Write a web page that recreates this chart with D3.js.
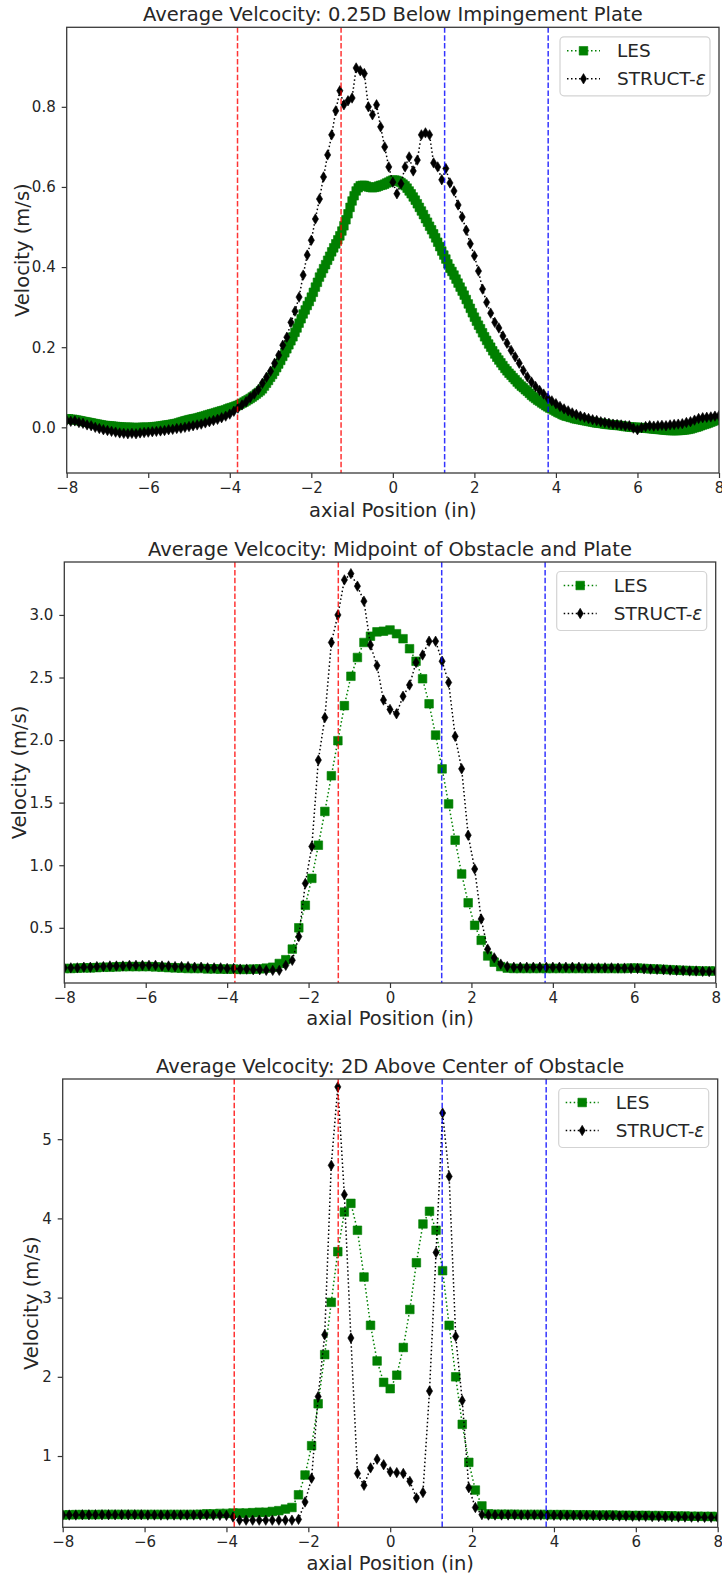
<!DOCTYPE html>
<html lang="en">
<head>
<meta charset="UTF-8">
<title>Average Velocity Profiles</title>
<script src="https://d3js.org/d3.v7.min.js"></script>
<style>
  body { margin: 0; background: #fff; }
  svg { display: block; font-family: "DejaVu Sans", sans-serif; }
  .axis line { stroke: #333; stroke-width: 1.2; }
  .axis text { font-size: 15px; fill: #262626; font-family: "DejaVu Sans", sans-serif; }
  .title, .axis-label { font-size: 19.5px; fill: #262626; }
  .legend text { font-size: 18.5px; fill: #262626; }
</style>
</head>
<body>
<svg id="chart" width="722" height="1579"></svg>
<script>
// ---- data ----
const xTicks = [-8, -6, -4, -2, 0, 2, 4, 6, 8];
const obstacleEdges = [-3.81, -1.27, 1.27, 3.81];
const seriesNames = ["LES", "STRUCT-"];

const titles = [
  "Average Velcocity: 0.25D Below Impingement Plate",
  "Average Velcocity: Midpoint of Obstacle and Plate",
  "Average Velcocity: 2D Above Center of Obstacle"
];

const plateTicks = [0.0, 0.2, 0.4, 0.6, 0.8];
const midTicks = [0.5, 1.0, 1.5, 2.0, 2.5, 3.0];
const aboveTicks = [1, 2, 3, 4, 5];

// 0.25D below the plate: LES every 0.05 in, STRUCT every 0.1 in
const plateLESX = d3.range(321).map(i => -8 + i * 0.05);
const plateStructX = d3.range(161).map(i => -8 + i * 0.1);
const plateLES = [
  0.021, 0.021, 0.020, 0.020, 0.019, 0.018, 0.017, 0.016, 0.015, 0.014,
  0.013, 0.012, 0.011, 0.010, 0.009, 0.008, 0.007, 0.006, 0.005, 0.0045,
  0.004, 0.0035, 0.003, 0.0025, 0.002, 0.0015, 0.001, 0.0005, 0.000, 0.000,
  0.000, 0.000, 0.000, -0.001, -0.001, -0.001, 0.000, 0.000, 0.000, 0.000,
  0.000, 0.000, 0.001, 0.0015, 0.002, 0.0025, 0.003, 0.004, 0.005, 0.0055,
  0.006, 0.007, 0.008, 0.009, 0.010, 0.0115, 0.013, 0.0145, 0.016, 0.0175,
  0.019, 0.020, 0.021, 0.022, 0.023, 0.0245, 0.026, 0.0275, 0.029, 0.0305,
  0.032, 0.0335, 0.035, 0.0365, 0.038, 0.0395, 0.041, 0.0425, 0.044, 0.046,
  0.048, 0.0495, 0.051, 0.053, 0.055, 0.0575, 0.060, 0.063, 0.066, 0.069,
  0.072, 0.0755, 0.079, 0.083, 0.087, 0.091, 0.096, 0.103, 0.110, 0.117,
  0.125, 0.132, 0.140, 0.149, 0.158, 0.167, 0.177, 0.186, 0.196, 0.206,
  0.216, 0.226, 0.237, 0.248, 0.260, 0.271, 0.283, 0.293, 0.304, 0.314,
  0.325, 0.337, 0.350, 0.362, 0.375, 0.385, 0.396, 0.406, 0.417, 0.427,
  0.438, 0.448, 0.458, 0.468, 0.478, 0.490, 0.503, 0.518, 0.533, 0.549,
  0.565, 0.578, 0.590, 0.598, 0.603, 0.604, 0.604, 0.602, 0.600, 0.599,
  0.598, 0.599, 0.600, 0.602, 0.604, 0.605, 0.607, 0.610, 0.612, 0.615,
  0.617, 0.617, 0.616, 0.614, 0.611, 0.607, 0.603, 0.597, 0.590, 0.583,
  0.575, 0.567, 0.558, 0.549, 0.540, 0.531, 0.521, 0.512, 0.502, 0.493,
  0.483, 0.473, 0.462, 0.451, 0.440, 0.430, 0.420, 0.408, 0.397, 0.389,
  0.380, 0.370, 0.360, 0.350, 0.340, 0.330, 0.319, 0.308, 0.297, 0.286,
  0.275, 0.265, 0.255, 0.246, 0.236, 0.226, 0.217, 0.208, 0.200, 0.191,
  0.183, 0.175, 0.168, 0.161, 0.154, 0.147, 0.141, 0.135, 0.130, 0.124,
  0.119, 0.113, 0.108, 0.103, 0.099, 0.094, 0.090, 0.085, 0.080, 0.076,
  0.072, 0.068, 0.065, 0.061, 0.058, 0.054, 0.051, 0.048, 0.046, 0.043,
  0.040, 0.037, 0.035, 0.032, 0.030, 0.028, 0.027, 0.025, 0.024, 0.022,
  0.021, 0.020, 0.019, 0.018, 0.017, 0.016, 0.015, 0.014, 0.013, 0.012,
  0.011, 0.0105, 0.010, 0.009, 0.008, 0.0075, 0.007, 0.0065, 0.006, 0.0055,
  0.005, 0.0045, 0.004, 0.003, 0.002, 0.0015, 0.001, 0.0005, 0.000, 0.000,
  0.000, -0.0005, -0.001, -0.0015, -0.002, -0.0025, -0.003, -0.0035, -0.004, -0.0045,
  -0.005, -0.0055, -0.006, -0.0065, -0.007, -0.0075, -0.008, -0.008, -0.008, -0.008,
  -0.008, -0.0075, -0.007, -0.0065, -0.006, -0.005, -0.004, -0.0025, -0.001, 0.0005,
  0.002, 0.004, 0.006, 0.0075, 0.009, 0.011, 0.013, 0.015, 0.017, 0.019, 0.021
];
const plateStruct = [
  0.017, 0.015, 0.016, 0.012, 0.010, 0.006, 0.004, 0.000, -0.003, -0.006,
  -0.008, -0.010, -0.012, -0.014, -0.015, -0.016, -0.015, -0.016, -0.014, -0.013,
  -0.012, -0.011, -0.010, -0.009, -0.008, -0.006, -0.005, -0.003, -0.002, 0.000,
  0.002, 0.004, 0.006, 0.008, 0.011, 0.014, 0.017, 0.020, 0.024, 0.028,
  0.033, 0.040, 0.048, 0.056, 0.064, 0.074, 0.083, 0.094, 0.110, 0.125,
  0.140, 0.160, 0.180, 0.205, 0.225, 0.262, 0.290, 0.325, 0.380, 0.430,
  0.467, 0.520, 0.570, 0.625, 0.680, 0.730, 0.790, 0.840, 0.805, 0.815,
  0.822, 0.897, 0.890, 0.883, 0.800, 0.780, 0.805, 0.750, 0.700, 0.650,
  0.612, 0.583, 0.608, 0.650, 0.675, 0.640, 0.667, 0.730, 0.735, 0.730,
  0.660, 0.650, 0.618, 0.646, 0.610, 0.590, 0.555, 0.525, 0.492, 0.458,
  0.428, 0.390, 0.345, 0.312, 0.285, 0.262, 0.248, 0.228, 0.210, 0.192,
  0.176, 0.160, 0.142, 0.126, 0.113, 0.102, 0.092, 0.083, 0.073, 0.066,
  0.059, 0.052, 0.046, 0.041, 0.036, 0.032, 0.028, 0.025, 0.022, 0.019,
  0.017, 0.014, 0.012, 0.010, 0.008, 0.007, 0.006, 0.004, 0.004, -0.002,
  -0.006, -0.001, 0.002, 0.004, 0.003, 0.004, 0.005, 0.004, 0.006, 0.007,
  0.008, 0.009, 0.012, 0.014, 0.018, 0.022, 0.024, 0.025, 0.026, 0.028, 0.029
];

// midpoint and 2D above: sampled every 0.16 in from -8 to 8
const coarseX = d3.range(101).map(i => -8 + i * 0.16);
const midLES = [
  0.175, 0.175, 0.178, 0.180, 0.180, 0.182, 0.185, 0.185, 0.188, 0.190,
  0.190, 0.190, 0.190, 0.190, 0.188, 0.185, 0.182, 0.180, 0.178, 0.175,
  0.175, 0.175, 0.172, 0.172, 0.170, 0.170, 0.170, 0.168, 0.168, 0.170,
  0.172, 0.178, 0.185, 0.215, 0.245, 0.330, 0.500, 0.680, 0.895, 1.160,
  1.430, 1.715, 1.995, 2.275, 2.510, 2.660, 2.780, 2.830, 2.865, 2.870,
  2.880, 2.850, 2.810, 2.730, 2.630, 2.490, 2.290, 2.040, 1.770, 1.490,
  1.200, 0.930, 0.700, 0.520, 0.400, 0.275, 0.225, 0.190, 0.178, 0.175,
  0.175, 0.175, 0.175, 0.175, 0.175, 0.175, 0.175, 0.175, 0.175, 0.175,
  0.175, 0.175, 0.175, 0.175, 0.175, 0.175, 0.175, 0.178, 0.178, 0.175,
  0.172, 0.170, 0.168, 0.165, 0.162, 0.160, 0.158, 0.156, 0.155, 0.155, 0.155
];
const midStruct = [
  0.180, 0.180, 0.180, 0.185, 0.185, 0.190, 0.190, 0.195, 0.195, 0.195,
  0.200, 0.200, 0.200, 0.200, 0.200, 0.195, 0.195, 0.190, 0.190, 0.190,
  0.185, 0.185, 0.180, 0.180, 0.180, 0.175, 0.175, 0.170, 0.170, 0.165,
  0.165, 0.160, 0.160, 0.160, 0.200, 0.240, 0.430, 0.855, 1.150, 1.840,
  2.180, 2.780, 3.000, 3.280, 3.330, 3.230, 3.110, 2.760, 2.595, 2.320,
  2.245, 2.210, 2.350, 2.440, 2.620, 2.680, 2.790, 2.790, 2.630, 2.460,
  2.030, 1.770, 1.240, 0.970, 0.570, 0.330, 0.260, 0.210, 0.190, 0.185,
  0.185, 0.185, 0.185, 0.185, 0.185, 0.185, 0.185, 0.185, 0.185, 0.185,
  0.180, 0.180, 0.180, 0.180, 0.180, 0.178, 0.178, 0.175, 0.175, 0.172,
  0.170, 0.168, 0.165, 0.162, 0.160, 0.158, 0.155, 0.155, 0.152, 0.150, 0.150
];

const aboveLES = [
  0.255, 0.258, 0.260, 0.260, 0.260, 0.260, 0.262, 0.262, 0.262, 0.262,
  0.262, 0.262, 0.262, 0.262, 0.262, 0.262, 0.262, 0.262, 0.262, 0.262,
  0.262, 0.265, 0.270, 0.270, 0.275, 0.275, 0.280, 0.280, 0.280, 0.285,
  0.290, 0.290, 0.300, 0.310, 0.330, 0.350, 0.510, 0.760, 1.130, 1.660,
  2.280, 2.940, 3.580, 4.080, 4.190, 3.850, 3.260, 2.650, 2.200, 1.930,
  1.850, 2.020, 2.370, 2.850, 3.440, 3.930, 4.090, 3.850, 3.340, 2.650,
  2.000, 1.400, 0.920, 0.570, 0.370, 0.270, 0.265, 0.265, 0.265, 0.265,
  0.262, 0.262, 0.262, 0.262, 0.260, 0.260, 0.260, 0.260, 0.258, 0.258,
  0.258, 0.255, 0.255, 0.255, 0.255, 0.252, 0.252, 0.250, 0.250, 0.250,
  0.248, 0.248, 0.245, 0.245, 0.242, 0.242, 0.240, 0.240, 0.238, 0.238, 0.235
];
const aboveStruct = [
  0.255, 0.255, 0.255, 0.258, 0.258, 0.258, 0.258, 0.258, 0.258, 0.258,
  0.258, 0.258, 0.258, 0.255, 0.255, 0.255, 0.255, 0.255, 0.255, 0.255,
  0.255, 0.255, 0.255, 0.252, 0.252, 0.250, 0.230, 0.190, 0.190, 0.190,
  0.190, 0.190, 0.190, 0.190, 0.190, 0.190, 0.200, 0.420, 0.720, 1.750,
  2.530, 4.670, 5.660, 4.300, 2.490, 0.780, 0.630, 0.850, 0.960, 0.890,
  0.800, 0.790, 0.780, 0.680, 0.470, 0.540, 1.820, 3.570, 5.330, 4.530,
  2.510, 1.700, 0.600, 0.350, 0.260, 0.255, 0.255, 0.255, 0.255, 0.255,
  0.255, 0.255, 0.255, 0.255, 0.252, 0.252, 0.252, 0.250, 0.250, 0.250,
  0.248, 0.248, 0.245, 0.245, 0.245, 0.242, 0.242, 0.240, 0.240, 0.238,
  0.235, 0.235, 0.232, 0.232, 0.230, 0.230, 0.228, 0.228, 0.225, 0.225, 0.222
];

// ---- layout of the three stacked axes ----
const panels = [
  { title: titles[0], lesX: plateLESX, les: plateLES, structX: plateStructX, struct: plateStruct,
    yDomain: [-0.114, 0.9985], yTicks: plateTicks, fmt: ".1f",
    left: 66.7, right: 719, top: 27.3, bottom: 473,
    titleY: 21, xlabelY: 517, ylabelX: 29.2 },
  { title: titles[1], lesX: coarseX, les: midLES, structX: coarseX, struct: midStruct,
    yDomain: [0.059, 3.423], yTicks: midTicks, fmt: ".1f",
    left: 64.3, right: 715.7, top: 562, bottom: 983,
    titleY: 556, xlabelY: 1025, ylabelX: 26 },
  { title: titles[2], lesX: coarseX, les: aboveLES, structX: coarseX, struct: aboveStruct,
    yDomain: [0.10, 5.76], yTicks: aboveTicks, fmt: "d",
    left: 62.7, right: 717.7, top: 1079, bottom: 1527.3,
    titleY: 1072.7, xlabelY: 1570, ylabelX: 37.7 }
];

const svg = d3.select("#chart");
const squarePath = d3.symbol(d3.symbolSquare, 74)();
const diamondPath = "M0,-5.2L3.1,0L0,5.2L-3.1,0Z";

panels.forEach((p, i) => drawPanel(p, i));

function drawSeries(g, xs, ys, x, y, color, marker) {
  const pts = xs.map((v, i) => [v, ys[i]]);
  g.append("path")
    .attr("d", d3.line().x(d => x(d[0])).y(d => y(d[1]))(pts))
    .attr("fill", "none")
    .attr("stroke", color)
    .attr("stroke-width", 1.5)
    .attr("stroke-dasharray", "1.5,2.5");
  g.selectAll(null)
    .data(pts)
    .enter().append("path")
    .attr("d", marker)
    .attr("transform", d => "translate(" + x(d[0]) + "," + y(d[1]) + ")")
    .attr("fill", color)
    .attr("stroke", color)
    .attr("stroke-width", 0.6);
}

function drawPanel(p, idx) {
  const x = d3.scaleLinear().domain([-8, 8]).range([p.left, p.right]);
  const y = d3.scaleLinear().domain(p.yDomain).range([p.bottom, p.top]);

  const clipId = "clip" + idx;
  svg.append("clipPath").attr("id", clipId)
    .append("rect")
    .attr("x", p.left).attr("y", p.top)
    .attr("width", p.right - p.left).attr("height", p.bottom - p.top);

  const plot = svg.append("g").attr("clip-path", "url(#" + clipId + ")");
  drawSeries(plot, p.lesX, p.les, x, y, "green", squarePath);
  drawSeries(plot, p.structX, p.struct, x, y, "black", diamondPath);

  // obstacle / plate edges
  plot.selectAll(null)
    .data(obstacleEdges)
    .enter().append("line")
    .attr("x1", d => x(d)).attr("x2", d => x(d))
    .attr("y1", p.top).attr("y2", p.bottom)
    .attr("stroke", d => d < 0 ? "#ff0000" : "#0000ff")
    .attr("stroke-opacity", 0.8)
    .attr("stroke-width", 1.5)
    .attr("stroke-dasharray", "5.5,2.4");

  // axes
  const xAxis = svg.append("g")
    .attr("class", "axis")
    .attr("transform", "translate(0," + p.bottom + ")")
    .call(d3.axisBottom(x).tickValues(xTicks).tickFormat(d3.format("d")).tickSize(5).tickPadding(4));
  xAxis.select(".domain").remove();

  const yAxis = svg.append("g")
    .attr("class", "axis")
    .attr("transform", "translate(" + p.left + ",0)")
    .call(d3.axisLeft(y).tickValues(p.yTicks).tickFormat(d3.format(p.fmt)).tickSize(5).tickPadding(6));
  yAxis.select(".domain").remove();

  svg.append("rect")
    .attr("x", p.left).attr("y", p.top)
    .attr("width", p.right - p.left).attr("height", p.bottom - p.top)
    .attr("fill", "none")
    .attr("stroke", "#3a3a3a")
    .attr("stroke-width", 1.3);

  // texts
  svg.append("text")
    .attr("class", "title")
    .attr("x", (p.left + p.right) / 2)
    .attr("y", p.titleY)
    .attr("text-anchor", "middle")
    .text(p.title);

  svg.append("text")
    .attr("class", "axis-label")
    .attr("x", (p.left + p.right) / 2)
    .attr("y", p.xlabelY)
    .attr("text-anchor", "middle")
    .text("axial Position (in)");

  svg.append("text")
    .attr("class", "axis-label")
    .attr("transform", "translate(" + p.ylabelX + "," + ((p.top + p.bottom) / 2) + ") rotate(-90)")
    .attr("text-anchor", "middle")
    .text("Velocity (m/s)");

  // legend
  const lx = p.right - 159, ly = p.top + 9.5;
  const legend = svg.append("g").attr("class", "legend");
  legend.append("rect")
    .attr("x", lx).attr("y", ly)
    .attr("width", 150).attr("height", 59)
    .attr("rx", 4)
    .attr("fill", "#fff").attr("fill-opacity", 0.8)
    .attr("stroke", "#d3d3d3").attr("stroke-width", 1.2);

  const entries = [
    { name: seriesNames[0], color: "green", marker: squarePath },
    { name: seriesNames[1], color: "black", marker: diamondPath }
  ];
  entries.forEach((e, i) => {
    const ry = ly + 14 + i * 28;
    legend.append("line")
      .attr("x1", lx + 7).attr("x2", lx + 40)
      .attr("y1", ry).attr("y2", ry)
      .attr("stroke", e.color).attr("stroke-width", 1.5)
      .attr("stroke-dasharray", "1.5,2.5");
    legend.append("path")
      .attr("d", e.marker)
      .attr("transform", "translate(" + (lx + 23.5) + "," + ry + ")")
      .attr("fill", e.color).attr("stroke", e.color).attr("stroke-width", 0.6);
    const t = legend.append("text")
      .attr("x", lx + 57).attr("y", ry)
      .attr("dy", "0.35em")
      .text(e.name);
    if (i === 1) t.append("tspan").attr("font-style", "italic").text("ε");
  });
}
</script>
</body>
</html>
